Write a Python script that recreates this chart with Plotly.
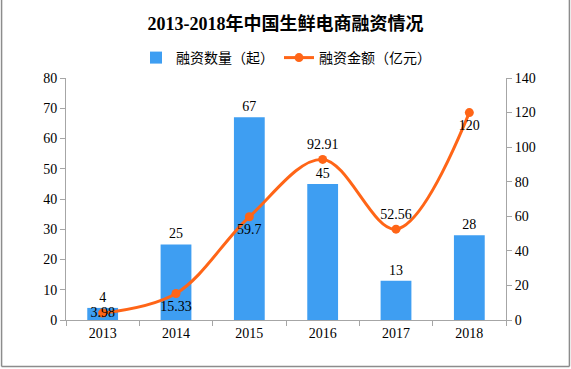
import plotly.graph_objects as go

years = ["2013", "2014", "2015", "2016", "2017", "2018"]
deal_counts = [4, 25, 67, 45, 13, 28]
deal_amounts = [3.98, 15.33, 59.7, 92.91, 52.56, 120]
amount_labels = ["3.98", "15.33", "59.7", "92.91", "52.56", "120"]
amount_label_pos = ["middle center", "bottom center", "bottom center", "top center", "top center", "bottom center"]

FONT = "Liberation Serif, Noto Sans CJK SC, serif"
W, H = 571, 369
L, R, T, B = 65.5, 65, 78, 49
pw, ph = W - L - R, H - T - B

def px_x(x):
    return (x - L) / pw

def px_y(y):
    return (H - B - y) / ph

fig = go.Figure()
fig.add_trace(go.Bar(
    x=years, y=deal_counts, name="融资数量（起）",
    marker=dict(color="#3E9EF2", line=dict(width=0)),
    text=[str(v) for v in deal_counts], textposition="outside",
    textfont=dict(family=FONT, size=14, color="#000"),
    cliponaxis=False, yaxis="y",
))
fig.add_trace(go.Scatter(
    x=years, y=deal_amounts, name="融资金额（亿元）", mode="lines+markers+text",
    line=dict(color="#FF6517", width=3, shape="spline", smoothing=1),
    marker=dict(color="#FF6517", size=9),
    text=amount_labels, textposition=amount_label_pos,
    textfont=dict(family=FONT, size=14, color="#000"),
    cliponaxis=False, yaxis="y2",
))

axis_common = dict(showgrid=False, zeroline=False, showline=True, linecolor="#A6A6A6",
                   linewidth=1, ticks="outside", ticklen=5, tickcolor="#A6A6A6",
                   tickfont=dict(family=FONT, size=14, color="#000"))

fig.update_layout(
    width=W, height=H,
    margin=dict(l=L, r=R, t=T, b=B, autoexpand=False),
    paper_bgcolor="white", plot_bgcolor="white",
    title=dict(text="<b>2013-2018年中国生鲜电商融资情况</b>", x=0.5, xanchor="center",
               y=1 - 24 / H, yanchor="middle",
               font=dict(family=FONT, size=18, color="#000")),
    legend=dict(orientation="h", x=0.5, xanchor="center", y=px_y(58), yanchor="middle",
                font=dict(family=FONT, size=14, color="#000"), bgcolor="rgba(0,0,0,0)",
                itemwidth=30),
    bargap=0.58,
    showlegend=True,
    xaxis=dict(**axis_common, tickson="boundaries", type="category"),
    yaxis=dict(**axis_common, range=[0, 80], dtick=10),
    yaxis2=dict(**axis_common, range=[0, 140], dtick=20, overlaying="y", side="right"),
    shapes=[
        dict(type="line", xref="paper", yref="paper", x0=px_x(1), x1=px_x(1), y0=px_y(0), y1=px_y(366.5),
             line=dict(color="#8C8C8C", width=1.5)),
        dict(type="line", xref="paper", yref="paper", x0=px_x(569.5), x1=px_x(569.5), y0=px_y(0), y1=px_y(366.5),
             line=dict(color="#8C8C8C", width=1.5)),
        dict(type="line", xref="paper", yref="paper", x0=px_x(1), x1=px_x(569.5), y0=px_y(366.5), y1=px_y(366.5),
             line=dict(color="#8C8C8C", width=1.5)),
    ],
)

fig.write_html("out.html", config={"displayModeBar": False},
               post_script="document.body.style.margin='0';document.body.style.overflow='hidden';")
